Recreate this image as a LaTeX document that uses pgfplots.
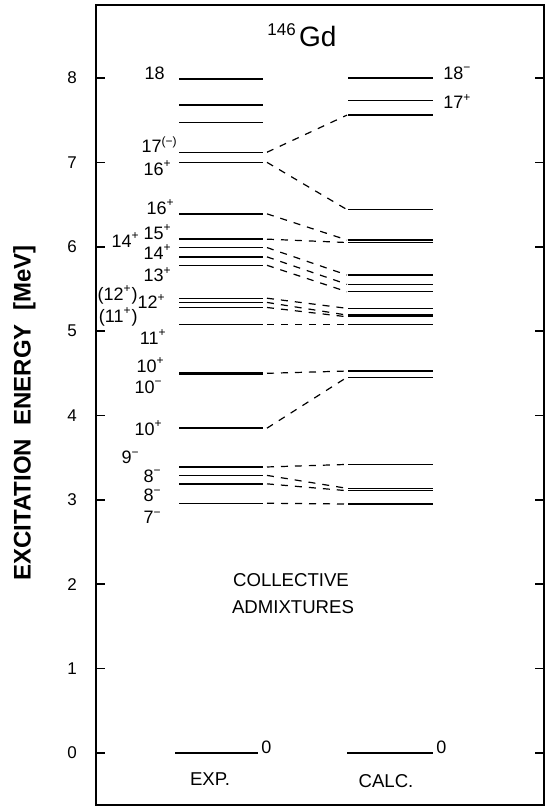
\documentclass[border=0pt]{standalone}
\usepackage{fontspec}
\setmainfont{Liberation Sans}
\usepackage{pgfplots}
\usepackage{pgfplotstable}
\pgfplotsset{compat=1.18}

% experimental levels (MeV)
\pgfplotstableread{
energy
7.99
7.68
7.475
7.12
7.00
6.39
6.09
5.99
5.88
5.78
5.39
5.34
5.28
5.08
4.51
4.49
3.85
3.39
3.29
3.19
2.96
}\explevels

% calculated levels (MeV)
\pgfplotstableread{
energy
8.00
7.73
7.56
6.44
6.08
6.05
5.665
5.555
5.467
5.27
5.19
5.17
5.08
4.527
4.453
3.42
3.137
3.109
2.951
}\calclevels

% exp -> calc correspondence
\pgfplotstableread{
eexp ecalc
7.12 7.56
7.00 6.44
6.39 6.08
6.09 6.05
5.99 5.665
5.88 5.555
5.78 5.467
5.39 5.27
5.34 5.19
5.28 5.17
5.08 5.08
4.50 4.527
3.85 4.453
3.39 3.42
3.29 3.137
3.19 3.109
2.96 2.951
}\links

\newcommand{\lab}{\fontsize{9}{10}\selectfont}
\newcommand{\up}[1]{\textsuperscript{#1}}

\begin{document}
\begin{tikzpicture}
\begin{axis}[
    scale only axis,
    width=224pt, height=400pt,
    xmin=96, xmax=544,
    ymin=-0.616, ymax=8.865,
    axis line style={line width=1.1pt},
    xtick=\empty,
    ytick={0,1,...,8},
    tick align=inside,
    major tick length=4.5pt,
    ytick pos=both,
    yticklabel pos=left,
    tick style={line width=0.8pt, black},
    yticklabel style={font=\fontsize{8.5}{9}\selectfont, xshift=-6pt},
    /pgf/number format/assume math mode=true,
    ylabel={EXCITATION\ \ ENERGY\ \ [MeV]},
    ylabel style={font=\bfseries\fontsize{12}{14}\selectfont, at={(axis description cs:-0.16,0.49)}, anchor=center},
    clip=false,
]
% levels
\addplot[draw=none, mark=none, error bars/.cd, x dir=both, x fixed=42,
    error mark=none, error bar style={line width=0.7pt, draw=black, solid}]
    table[x expr=221, y=energy] {\explevels};
\addplot[draw=none, mark=none, error bars/.cd, x dir=both, x fixed=42.5,
    error mark=none, error bar style={line width=0.7pt, draw=black, solid}]
    table[x expr=390.5, y=energy] {\calclevels};
% ground states
\addplot[line width=0.7pt, mark=none] coordinates {(175,0) (258,0)};
\addplot[line width=0.7pt, mark=none] coordinates {(347,0) (433,0)};
% dashed links
\addplot[line width=0.6pt, dash pattern=on 3.5pt off 3.5pt, mark=none,
    quiver={u=80, v=\thisrow{ecalc}-\thisrow{eexp}}]
    table[x expr=267, y=eexp] {\links};

% labels, experiment
\begin{scope}[every node/.style={anchor=east, inner sep=0pt, font=\lab}]
\node at (axis cs:165,8.06) {18};
\node at (axis cs:178,7.21) {17\up{(−)}};
\node at (axis cs:172,6.93) {16\up{+}};
\node at (axis cs:175,6.47) {16\up{+}};
\node at (axis cs:140,6.08) {14\up{+}};
\node at (axis cs:172,6.17) {15\up{+}};
\node at (axis cs:172,5.94) {14\up{+}};
\node at (axis cs:172,5.67) {13\up{+}};
\node at (axis cs:138,5.43) {(12\up{+})};
\node at (axis cs:166,5.35) {12\up{+}};
\node at (axis cs:138,5.17) {(11\up{+})};
\node at (axis cs:167,4.93) {11\up{+}};
\node at (axis cs:165,4.60) {10\up{+}};
\node at (axis cs:163,4.34) {10\up{−}};
\node at (axis cs:163,3.85) {10\up{+}};
\node at (axis cs:140,3.50) {9\up{−}};
\node at (axis cs:162,3.28) {8\up{−}};
\node at (axis cs:162,3.05) {8\up{−}};
\node at (axis cs:162,2.79) {7\up{−}};
\end{scope}
% labels, calculation
\begin{scope}[every node/.style={anchor=west, inner sep=0pt, font=\lab}]
\node at (axis cs:443,8.06) {18\up{−}};
\node at (axis cs:443,7.72) {17\up{+}};
\node at (axis cs:261,0.07) {0};
\node at (axis cs:436,0.07) {0};
\end{scope}

\node[anchor=base west, inner sep=0pt] at (axis cs:267,8.37)
    {\raisebox{1.1ex}{\fontsize{8.5}{9}\selectfont 146}\,\fontsize{14}{15}\selectfont Gd};
\node[font=\fontsize{9.3}{11}\selectfont, inner sep=0pt] at (axis cs:291,2.05) {COLLECTIVE};
\node[font=\fontsize{9.3}{11}\selectfont, inner sep=0pt] at (axis cs:293,1.73) {ADMIXTURES};
\node[font=\fontsize{9.3}{11}\selectfont, inner sep=0pt] at (axis cs:210,-0.31) {EXP.};
\node[font=\fontsize{9.3}{11}\selectfont, inner sep=0pt] at (axis cs:386,-0.33) {CALC.};
\end{axis}
\path ([shift={(-48pt,-3.5pt)}]current axis.south west) rectangle ([shift={(0.5pt,2.5pt)}]current axis.north east);
\end{tikzpicture}
\end{document}
